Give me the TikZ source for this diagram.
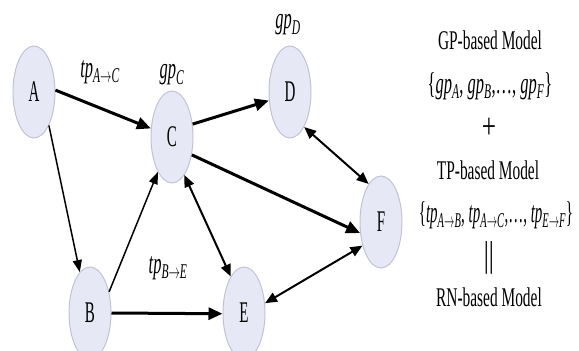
\documentclass[tikz,border=0pt]{standalone}
\usepackage{fontspec}
\setmainfont{Liberation Serif}
\usetikzlibrary{shapes.geometric,arrows.meta}
\definecolor{nodefill}{RGB}{230,233,245}
\definecolor{nodeedge}{RGB}{192,196,210}
% narrow the type horizontally
\newcommand\narrow[2][0.62]{\scalebox{#1}[1]{#2}}
\newcommand\ip[2]{\textit{#1}\textsubscript{\textit{#2}}}
\newcommand\ipar[3]{\textit{#1}\textsubscript{\textit{#2}$\rightarrow$\textit{#3}}}
\begin{document}
\begin{tikzpicture}[x=1pt,y=-1pt,
  vertex/.style={ellipse, draw=nodeedge, fill=nodefill, line width=1pt,
    minimum width=42pt, minimum height=92pt, inner sep=0pt,
    font=\fontsize{30}{30}\selectfont},
  heavy/.style={line width=3pt, -{Triangle[length=14pt,width=12pt]}},
  light/.style={line width=1.5pt, -{Triangle[length=12pt,width=9pt]}},
  twoway/.style={line width=2pt,
    {Triangle[length=12pt,width=10pt]}-{Triangle[length=12pt,width=10pt]}},
  lbl/.style={font=\fontsize{30}{30}\selectfont, inner sep=0pt},
  txt/.style={font=\fontsize{27}{27}\selectfont, inner sep=0pt},
  formula/.style={font=\fontsize{30}{30}\selectfont, inner sep=0pt},
  sign/.style={font=\fontsize{36}{36}\selectfont, inner sep=0pt}]

\useasboundingbox (0,0) rectangle (579,351);
\clip (0,0) rectangle (579,351);

% network vertices
\node[vertex] (A) at (34,92)  {\narrow[0.5]{A}};
\node[vertex] (C) at (172,137) {\narrow[0.5]{C}};
\node[vertex] (D) at (290,92)  {\narrow[0.5]{D}};
\node[vertex] (B) at (90,313)  {\narrow[0.5]{B}};
\node[vertex] (E) at (244,313) {\narrow[0.5]{E}};
\node[vertex] (F) at (381,222) {\narrow[0.5]{F}};

% transitions
\draw[heavy]  (A.5)   -- (C.158);
\draw[light]  (A.-66) -- (B.104);
\draw[light]  (B.48)  -- (C.-112);
\draw[heavy]  (B.0)   -- (E.182);
\draw[heavy]  (C.32)  -- (D.-158);
\draw[heavy]  (C.-42) -- (F.-152);
\draw[twoway] (C.-72) -- (E.110);
\draw[twoway] (D.-68) -- (F.108);
\draw[twoway] (E.25)  -- (F.-128);

% parameter labels
\node[lbl] (lAC) at (100,72)  {\narrow[0.55]{\ipar{tp}{A}{C}}};
\node[lbl] (lC)  at (172,75)  {\narrow[0.55]{\ip{gp}{C}}};
\node[lbl] (lD)  at (288,25)  {\narrow[0.55]{\ip{gp}{D}}};
\node[lbl] (lBE) at (168,268) {\narrow[0.55]{\ipar{tp}{B}{E}}};

% model composition
\node[txt] (gp)   at (490,40)  {\narrow[0.57]{GP-based Model}};
\node[formula] (gps)  at (490,86)  {\narrow[0.55]{\{\ip{gp}{A}, \ip{gp}{B},\dots, \ip{gp}{F}\}}};
\node[sign] (plus) at (489,128) {\narrow[0.7]{+}};
\node[txt] (tp)   at (488,170) {\narrow[0.57]{TP-based Model}};
\node[formula] (tps)  at (496,215) {\narrow[0.5]{\{\ipar{tp}{A}{B}, \ipar{tp}{A}{C},\dots, \ipar{tp}{E}{F}\}}};
\node[sign] (eq)   at (489,258) {\narrow[0.7]{||}};
\node[txt] (rn)   at (489,297) {\narrow[0.57]{RN-based Model}};
\end{tikzpicture}
\end{document}
